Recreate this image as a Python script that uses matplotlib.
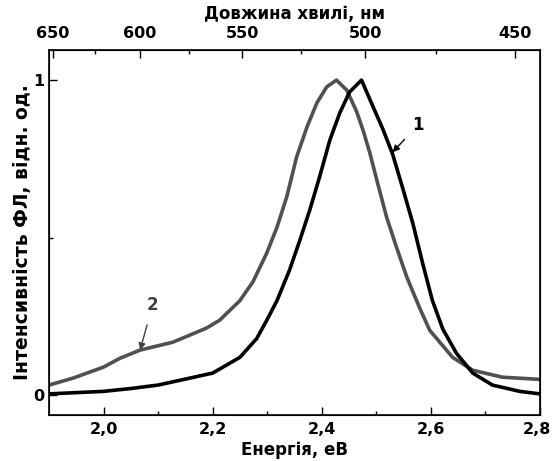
import matplotlib
matplotlib.use("Agg")
import matplotlib.pyplot as plt
from matplotlib.transforms import ScaledTranslation

plt.rcParams['font.family'] = ["DejaVu Sans"]
plt.rcParams['font.weight'] = 'bold'

# Data
energy_1 = [1.90, 1.95, 2.00, 2.05, 2.10, 2.158, 2.20, 2.25, 2.281, 2.30, 2.318, 2.341, 2.36,
            2.378, 2.396, 2.415, 2.433, 2.451, 2.473, 2.493, 2.512, 2.53, 2.548, 2.567,
            2.585, 2.603, 2.622, 2.647, 2.677, 2.713, 2.763, 2.80]
intensity_1 = [0.004, 0.008, 0.012, 0.021, 0.032, 0.054, 0.07, 0.12, 0.18, 0.24, 0.30, 0.397, 0.492,
               0.587, 0.692, 0.81, 0.895, 0.962, 1.0, 0.92, 0.845, 0.765, 0.66, 0.546,
               0.419, 0.30, 0.21, 0.133, 0.07, 0.032, 0.012, 0.004]

energy_2 = [1.90, 1.944, 2.00, 2.03, 2.067, 2.127, 2.189, 2.213, 2.25, 2.274, 2.299, 2.318,
            2.336, 2.354, 2.373, 2.391, 2.409, 2.427, 2.446, 2.464, 2.476, 2.488, 2.501,
            2.519, 2.537, 2.556, 2.579, 2.598, 2.64, 2.677, 2.731, 2.80]
intensity_2 = [0.032, 0.054, 0.089, 0.117, 0.143, 0.168, 0.213, 0.238, 0.30, 0.36, 0.45, 0.533,
               0.63, 0.756, 0.851, 0.927, 0.978, 1.0, 0.968, 0.90, 0.84, 0.77, 0.683,
               0.565, 0.47, 0.375, 0.279, 0.206, 0.12, 0.079, 0.057, 0.05]

wavelength_ticks = [650, 600, 550, 500, 450]
wavelength_minor = [625, 575, 525, 475]
x_ticks = [2.0, 2.2, 2.4, 2.6, 2.8]
x_ticklabels = ["2,0", "2,2", "2,4", "2,6", "2,8"]

fig = plt.figure(figsize=(5.52, 4.61), dpi=100)
ax = fig.add_axes([0.0888, 0.0998, 0.978 - 0.0888, 0.8926 - 0.0998])

ax.plot(energy_2, intensity_2, color='#505050', lw=2.6)
ax.plot(energy_1, intensity_1, color='black', lw=2.6)

ax.set_xlim(1.9, 2.8)
ax.set_ylim(-0.063, 1.097)

ax.set_xticks(x_ticks)
ax.set_xticklabels(x_ticklabels)
ax.set_xticks([2.1, 2.3, 2.5, 2.7], minor=True)
ax.set_yticks([0, 1])
ax.set_yticklabels(["0", "1"])
ax.set_yticks([0.5], minor=True)

ax.tick_params(which='both', direction='in', labelsize=11.5, width=1)
ax.tick_params(which='major', length=6)
ax.tick_params(which='minor', length=3)
ax.tick_params(axis='x', pad=5)
for s in ax.spines.values():
    s.set_linewidth(1.2)

# keep the last bottom tick label inside the figure
last = ax.get_xticklabels()[-1]
last.set_transform(last.get_transform() + ScaledTranslation(-3 / 100, 0, fig.dpi_scale_trans))

ax.set_xlabel("Енергія, еВ", fontsize=12, fontweight='bold', labelpad=3)
ax.set_ylabel("Інтенсивність ФЛ, відн. од.", fontsize=13.5, fontweight='bold', labelpad=1)

ax2 = ax.twiny()
ax2.set_xlim(ax.get_xlim())
ax2.set_xticks([1239.84 / w for w in wavelength_ticks])
ax2.set_xticklabels([str(w) for w in wavelength_ticks])
ax2.set_xticks([1239.84 / w for w in wavelength_minor], minor=True)
ax2.tick_params(which='both', direction='in', labelsize=11.5, width=1)
ax2.tick_params(which='major', length=6)
ax2.tick_params(which='minor', length=3)
ax2.tick_params(axis='x', pad=6)
ax2.set_xlabel("Довжина хвилі, нм", fontsize=12, fontweight='bold', labelpad=5)

ax.annotate("1", xy=(2.530, 0.771), xytext=(2.576, 0.857), fontsize=12, fontweight='bold',
            ha='center', va='center',
            arrowprops=dict(arrowstyle='-|>', lw=1, color='black', mutation_scale=10,
                            shrinkA=5, shrinkB=0))
ax.annotate("2", xy=(2.067, 0.143), xytext=(2.09, 0.286), fontsize=12, fontweight='bold',
            ha='center', va='center', color='#404040',
            arrowprops=dict(arrowstyle='-|>', lw=1, color='#404040', mutation_scale=10,
                            shrinkA=6, shrinkB=0))

fig.savefig("out.png", dpi=100)
